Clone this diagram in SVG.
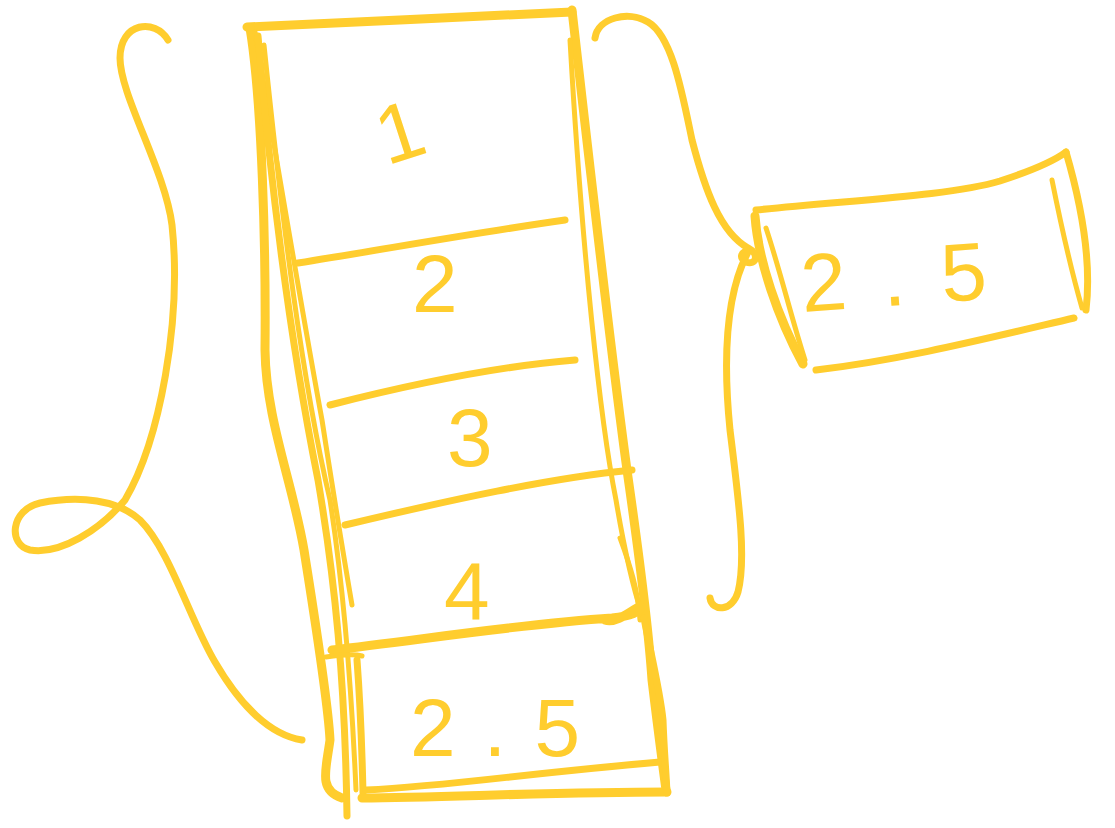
<svg xmlns="http://www.w3.org/2000/svg" width="1115" height="828" viewBox="0 0 1115 828">
<style>
.s{fill:none;stroke:#FFCD2E;stroke-width:7;stroke-linecap:round;stroke-linejoin:round}
.t{stroke-width:9}
.th{stroke-width:5}
.lbl{fill:#FFCD2E;font-family:"Liberation Sans","DejaVu Sans",sans-serif;font-size:82px}
</style>
<rect width="1115" height="828" fill="#FFFFFF"/>
<g id="stack">
  <path class="s t" d="M247,27 C350,22 470,17 572,12"/>
  <path class="s t" d="M250,28 C262,100 266,250 265,350 C266,420 292,480 304,550 C315,620 328,700 330,740 C326,770 318,790 342,798"/>
  <path class="s th" d="M255,32 C275,150 300,300 322,420 C336,510 346,570 352,605"/>
  <path class="s" d="M258,36 C272,200 292,350 318,480 C335,580 345,680 347,816"/>
  <path class="s th" d="M264,45 C282,220 302,380 330,500 C344,590 352,700 356,790"/>
  <path class="s t" d="M572,10 C588,150 608,330 627,470 C637,540 648,620 652,680 C658,730 662,760 666,790"/>
  <path class="s th" d="M570,40 C582,250 600,420 616,500 C626,560 634,590 642,615"/>
  <path class="s th" d="M620,538 C630,565 638,590 640,620"/>
</g>
<g id="slot1">
  <text class="lbl" x="378" y="164" font-size="70" transform="rotate(-18 388 137)">1</text>
</g>
<g id="slot2">
  <path class="s" d="M298,263 C380,250 480,232 565,220"/>
  <text class="lbl" x="412" y="312" font-size="92">2</text>
</g>
<g id="slot3">
  <path class="s" d="M330,405 C420,382 500,366 575,360"/>
  <text class="lbl" x="447" y="466">3</text>
</g>
<g id="slot4">
  <path class="s" d="M345,525 C450,500 550,478 632,470"/>
  <text class="lbl" x="444" y="620" font-size="100">4</text>
</g>
<g id="slot5">
  <path class="s t" d="M332,650 C420,640 520,624 612,618 C630,616 642,612 640,606 C630,612 615,624 605,620"/>
  <path class="s th" d="M326,657 C340,655 355,654 362,656"/>
  <path class="s" d="M357,660 C360,700 362,750 363,793"/>
  <path class="s t" d="M362,798 C450,797 560,792 667,792"/>
  <path class="s" d="M366,790 C450,786 520,774 660,762"/>
  <path class="s" d="M644,618 C650,650 660,690 663,720 C664,750 666,770 667,793"/>
  <text class="lbl" x="410" y="756" font-size="94" letter-spacing="28">2.5</text>
</g>
<g id="detached">
  <path class="s" d="M756,210 C850,200 950,196 1000,181 C1040,168 1058,158 1066,152"/>
  <path class="s t" d="M755,216 C758,260 778,318 803,364"/>
  <path class="s th" d="M766,228 C780,270 792,320 805,360"/>
  <path class="s" d="M816,370 C900,360 980,340 1074,318"/>
  <path class="s" d="M1066,152 C1080,200 1092,260 1086,310"/>
  <path class="s th" d="M1052,180 C1062,230 1074,280 1082,308"/>
  <text class="lbl" x="800" y="305" font-size="92" letter-spacing="36" transform="rotate(-4 900 270)">2.5</text>
</g>
<g id="connectors">
  <path class="s" d="M168,40 C155,18 120,22 120,58 C120,95 165,170 172,225 C182,320 160,440 125,500 C100,530 60,555 30,550 C8,545 10,510 40,503 C80,495 118,500 140,520 C170,550 190,620 215,662 C240,705 270,735 302,740"/>
  <path class="s" d="M595,38 C598,18 628,10 648,22 C672,36 682,92 692,140 C705,190 720,232 748,248 C760,254 756,266 746,262 C738,258 742,250 748,252 C728,290 722,350 730,430 C740,510 746,560 738,592 C732,612 712,612 710,598"/>
</g>
</svg>
